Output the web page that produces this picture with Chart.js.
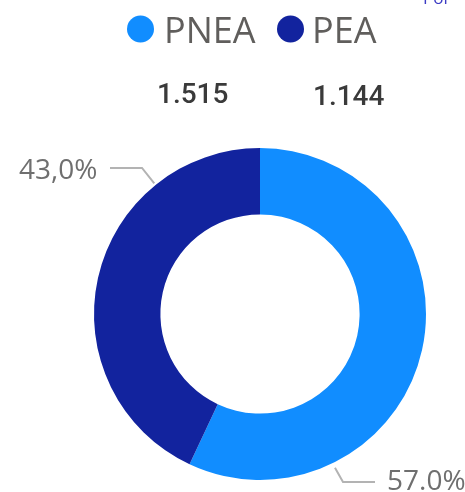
<!DOCTYPE html>
<html>
<head>
<meta charset="utf-8">
<script src="https://cdn.jsdelivr.net/npm/chart.js@4"></script>
<style>
    html, body { margin: 0; padding: 0; background: #fff; }
    #wrap { position: relative; width: 465px; height: 492px; overflow: hidden; }
    #corner { position: absolute; left: 423px; top: -14px; font: 17px "Open Sans", sans-serif; color: #3b3bc4; }
</style>
</head>
<body>
<div id="wrap">
    <canvas id="donut" width="465" height="492"></canvas>
    <div id="corner">Por</div>
</div>
<script>
const categories = ['PNEA', 'PEA'];
const values = [1515, 1144];
const valueLabels = ['1.515', '1.144'];
const pctLabels = ['57.0%', '43,0%'];
const colors = ['#118DFF', '#12239E'];

// legend + totals + leader labels, drawn on top of the doughnut
const decorPlugin = {
    id: 'decor',
    afterDraw(chart) {
        const ctx = chart.ctx;
        const arc = chart.getDatasetMeta(0).data[0];
        const cx = arc.x, cy = arc.y, r = arc.outerRadius;
        ctx.save();

        // legend
        const legendItems = [{ dot: 140.5, text: 164 }, { dot: 290.5, text: 312 }];
        ctx.font = '36px "Open Sans", sans-serif';
        ctx.textBaseline = 'alphabetic';
        categories.forEach((c, i) => {
            ctx.fillStyle = colors[i];
            ctx.beginPath();
            ctx.arc(legendItems[i].dot, 29, 13.5, 0, Math.PI * 2);
            ctx.fill();
            ctx.fillStyle = '#605E5C';
            ctx.fillText(c, legendItems[i].text, 43);
        });

        // totals
        ctx.font = '500 28px Roboto, sans-serif';
        ctx.fillStyle = '#3a3a3a';
        ctx.fillText(valueLabels[0], 157, 103);
        ctx.fillText(valueLabels[1], 313, 105);

        // leader lines
        ctx.strokeStyle = '#b3b3b3';
        ctx.lineWidth = 2;
        const a1 = 231 * Math.PI / 180;
        ctx.beginPath();
        ctx.moveTo(cx + (r + 2) * Math.cos(a1), cy + (r + 2) * Math.sin(a1));
        ctx.lineTo(142, 168);
        ctx.lineTo(110, 168);
        ctx.stroke();
        const a0 = 64 * Math.PI / 180;
        ctx.beginPath();
        ctx.moveTo(cx + (r + 5) * Math.cos(a0), cy + (r + 5) * Math.sin(a0));
        ctx.lineTo(343, 482);
        ctx.lineTo(375, 482);
        ctx.stroke();

        // percentage labels
        ctx.font = '28px "Open Sans", sans-serif';
        ctx.fillStyle = '#6f6f6f';
        ctx.fillText(pctLabels[1], 19, 179);
        ctx.fillText(pctLabels[0], 387, 490);
        ctx.restore();
    }
};

new Chart(document.getElementById('donut'), {
    type: 'doughnut',
    data: {
        labels: categories,
        datasets: [{
            data: values,
            backgroundColor: colors,
            borderWidth: 0
        }]
    },
    options: {
        responsive: false,
        animation: false,
        cutout: '60%',
        layout: {
            padding: { top: 148, bottom: 12, left: 94, right: 39 }
        },
        plugins: {
            legend: { display: false },
            tooltip: { enabled: false }
        }
    },
    plugins: [decorPlugin]
});
</script>
</body>
</html>
